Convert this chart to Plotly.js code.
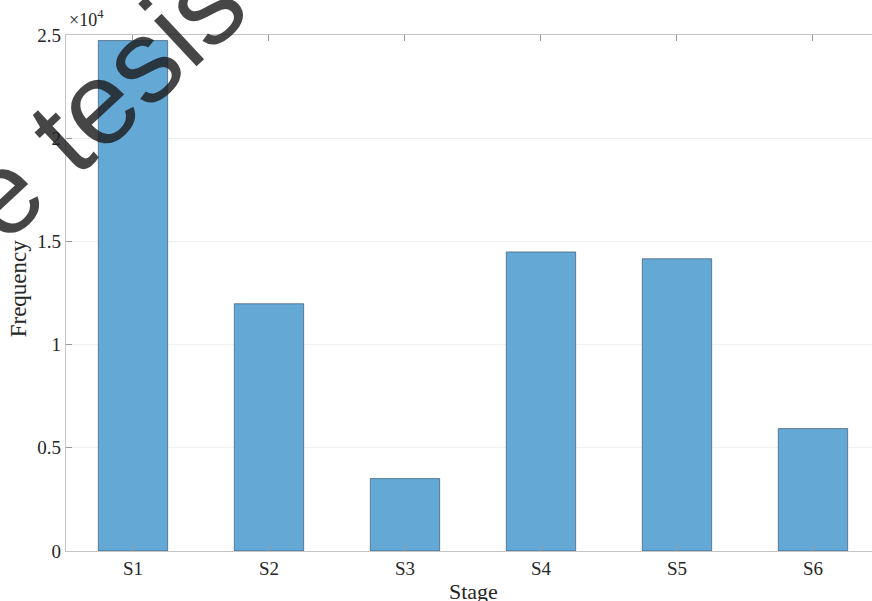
<!DOCTYPE html>
<html>
<head>
<meta charset="utf-8">
<script src="https://cdn.plot.ly/plotly-3.0.1.min.js"></script>
<style>
  html, body { margin: 0; padding: 0; background: #fff; }
  #chart { width: 872px; height: 601px; }
</style>
</head>
<body>
<div id="chart"></div>
<script>
// Frequency of each stage
const stages = ['S1', 'S2', 'S3', 'S4', 'S5', 'S6'];
const frequency = [24730, 11980, 3510, 14490, 14160, 5930];

// y axis ticks, shown in units of 10^4
const yTickVals = [0, 5000, 10000, 15000, 20000, 25000];
const yTickText = ['0', '0.5', '1', '1.5', '2', '2.5'];

const serif = 'Liberation Serif, Times New Roman, serif';
const textColor = '#262626';
const axisColor = '#c4c4c4';

const trace = {
  type: 'bar',
  x: stages.map((_, i) => i),
  y: frequency,
  width: 0.51,
  marker: {
    color: 'rgb(100,168,214)',
    line: { color: 'rgba(45,70,95,0.6)', width: 1 }
  },
  hoverinfo: 'skip'
};

const layout = {
  width: 872,
  height: 601,
  margin: { l: 66, r: 0, t: 35, b: 50, pad: 0 },
  paper_bgcolor: '#ffffff',
  plot_bgcolor: '#ffffff',
  showlegend: false,
  font: { family: serif, size: 19, color: textColor },
  xaxis: {
    range: [-0.4926, 5.434],
    tickvals: stages.map((_, i) => i),
    ticktext: stages,
    ticks: 'inside',
    ticklen: 6,
    tickcolor: '#9a9a9a',
    tickwidth: 1,
    showline: true,
    linecolor: axisColor,
    linewidth: 1.3,
    mirror: 'allticks',
    showgrid: false,
    zeroline: false,
    tickfont: { family: serif, size: 19, color: textColor },
    fixedrange: true
  },
  yaxis: {
    range: [0, 25000],
    tickvals: yTickVals,
    ticktext: yTickText,
    ticks: 'inside',
    ticklen: 6,
    tickcolor: '#9a9a9a',
    tickwidth: 1,
    showline: true,
    linecolor: axisColor,
    linewidth: 1.3,
    showgrid: true,
    gridcolor: 'rgba(0,0,0,0.06)',
    gridwidth: 1,
    zeroline: false,
    tickfont: { family: serif, size: 19, color: textColor },
    fixedrange: true
  },
  annotations: [
    {
      text: '×10<sup>4</sup>',
      xref: 'paper', yref: 'paper',
      x: 0.001, y: 1.006,
      xanchor: 'left', yanchor: 'bottom',
      showarrow: false,
      font: { family: serif, size: 18, color: textColor }
    },
    {
      text: 'Frequency',
      xref: 'paper', yref: 'paper',
      x: -0.0590, y: 0.510,
      xanchor: 'center', yanchor: 'middle',
      textangle: -90,
      showarrow: false,
      font: { family: serif, size: 23, color: textColor }
    },
    {
      text: 'Stage',
      xref: 'paper', yref: 'paper',
      x: 0.506, y: -0.050,
      xanchor: 'center', yanchor: 'top',
      showarrow: false,
      font: { family: serif, size: 22, color: textColor }
    },
    {
      text: 'de tesis',
      xref: 'paper', yref: 'paper',
      x: 0.0136, y: 0.8314,
      xanchor: 'center', yanchor: 'middle',
      textangle: -43,
      showarrow: false,
      opacity: 0.82,
      font: { family: 'Liberation Sans, Arial, sans-serif', size: 118, color: '#1e1e1e' }
    }
  ]
};

Plotly.newPlot('chart', [trace], layout, { displayModeBar: false, staticPlot: true });
</script>
</body>
</html>
